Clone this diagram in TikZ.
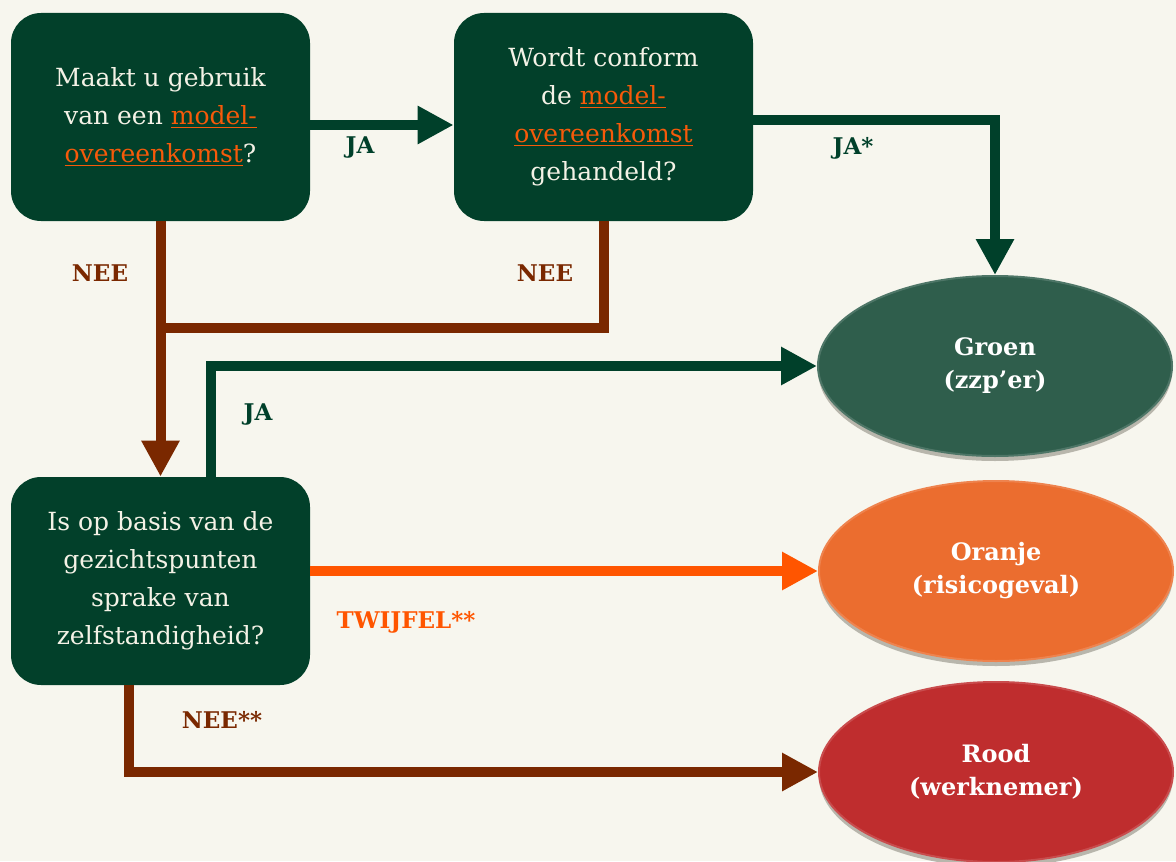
\documentclass[tikz,border=0pt]{standalone}
\usepackage{xcolor}
\usepackage{fontspec}
\setmainfont{DejaVu Serif}
\usetikzlibrary{
		arrows.meta,
		calc,
		shadows,
		shapes.geometric
	}
\definecolor{paper}{HTML}{F7F6EE}
\definecolor{boxgreen}{HTML}{02402A}
\definecolor{boxtext}{HTML}{F4F2E6}
\definecolor{darkgreen}{HTML}{00402A}
\definecolor{brownline}{HTML}{7A2800}
\definecolor{orangeline}{HTML}{FF5500}
\definecolor{linkorange}{HTML}{F65A0A}
\definecolor{groen}{HTML}{2F5E4C}
\definecolor{oranje}{HTML}{EB6D2F}
\definecolor{rood}{HTML}{BF2D2E}
\definecolor{shadowgrey}{HTML}{B8B6AC}
\tikzset{
		>={Triangle[length=18pt,width=18pt]},
		question/.style={rectangle, rounded corners=15pt, fill=boxgreen, text=boxtext,
			minimum width=149.5pt, minimum height=104pt, align=center,
			font=\fontsize{12.5}{19}\selectfont},
		outcome/.style={ellipse, fill=#1, draw=#1!85!white, line width=1pt,
			minimum width=177pt, minimum height=90pt, text=white, align=center,
			font=\fontsize{12}{16.5}\selectfont\bfseries,
			drop shadow={shadow xshift=0pt, shadow yshift=-2.5pt, fill=shadowgrey, opacity=1}},
		flow/.style={line width=5pt, ->},
		answer/.style={font=\fontsize{11.5}{14}\selectfont\bfseries}
	}
\newcommand{\modellink}[1]{\textcolor{linkorange}{\underline{#1}}}

\begin{document}
\begin{tikzpicture}[x=0.5pt, y=-0.5pt]
    % the paper
    \fill[paper] (0,0) rectangle (1176,861);
    \useasboundingbox (0,0) rectangle (1176,861);

    % the questions
    \node[question] (q1) at (160.5,117) {Maakt u gebruik\\van een \modellink{model-}\\\modellink{overeenkomst}?};
    \node[question] (q2) at (603.5,117) {Wordt conform\\de \modellink{model-}\\\modellink{overeenkomst}\\gehandeld?};
    \node[question] (q3) at (160.5,581) {Is op basis van de\\gezichtspunten\\sprake van\\zelfstandigheid?};

    % the outcomes
    \node[outcome=groen] (groen) at (995,366) {Groen\\(zzp’er)};
    \node[outcome=oranje] (oranje) at (996,571) {Oranje\\(risicogeval)};
    \node[outcome=rood] (rood) at (996,772) {Rood\\(werknemer)};

    % the answers
    \node[answer, text=darkgreen] (ja1) at (360,148) {JA};
    \node[answer, text=darkgreen] (ja2) at (853,148) {JA*};
    \node[answer, text=brownline] (nee1) at (100,273) {NEE};
    \node[answer, text=brownline] (nee2) at (545,273) {NEE};
    \node[answer, text=darkgreen] (ja3) at (258,415) {JA};
    \node[answer, text=orangeline] (twijfel) at (406,622) {TWIJFEL**};
    \node[answer, text=brownline] (nee3) at (222,720) {NEE**};

    % the point where both NEE lines meet
    \coordinate (merge) at (160.5,328);

    % draw the arrows
    \draw[flow, darkgreen] ([yshift=-4pt]q1.east) -- ([yshift=-4pt]q2.west);

    \draw[flow, darkgreen] ([yshift=-1.5pt]q2.east) -| (groen.north);

    \draw[flow, brownline] (q1.south) -- (q3.north);

    \draw[line width=5pt, brownline] (q2.south) |- (merge);

    \draw[flow, darkgreen] ([xshift=25pt]q3.north) |- (groen.west);

    \draw[flow, orangeline] (q3.east |- oranje.west) -- (oranje.west);

    \draw[flow, brownline] ([xshift=-16pt]q3.south) |- (rood.west);

\end{tikzpicture}
\end{document}
